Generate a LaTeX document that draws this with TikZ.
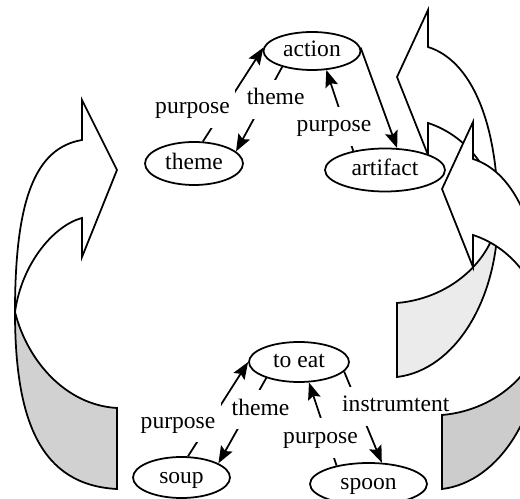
\documentclass[tikz,border=0pt]{standalone}
\usepackage{fontspec}
\setmainfont{Liberation Serif}
\usetikzlibrary{arrows.meta,shapes.geometric}
\tikzset{
  concept/.style={ellipse, draw, line width=1pt, fill=white, inner sep=0pt, text height=9.4pt, text depth=2.7pt},
  lbl/.style={fill=white, inner xsep=3pt, inner ysep=4.8pt, text height=9.4pt, text depth=3.3pt, anchor=base},
  rel/.style={line width=1pt, -{Stealth[length=3.4mm, width=2.6mm, inset=0.6mm]}},
  outl/.style={line width=1pt, line join=miter},
}
\def\curlarrow#1{%
  \filldraw[outl, fill=#1] (498,215) .. controls (498,300) and (455,370) .. (397,377)
    -- (397,303) .. controls (455,298) and (495,255) .. (498,215) -- cycle;
  \filldraw[outl, fill=white] (498,215) .. controls (498,120) and (470,60) .. (428,47)
    -- (428,10) -- (397,77) -- (428,155) -- (428,123)
    .. controls (465,135) and (495,170) .. (498,215) -- cycle;
}

\begin{document}
\begin{tikzpicture}[x=0.02cm, y=-0.02cm, font=\fontsize{13.4}{16}\selectfont]
		%%%%% START %%%%%
		\clip (0,0) rectangle (520,499);
		
		% left arrow
		\filldraw[outl, fill=black!18] (15,312) .. controls (15,420) and (40,485) .. (117,489)
			-- (117,408) .. controls (65,405) and (27,360) .. (15,312) -- cycle;
		\filldraw[outl, fill=white] (15,312) .. controls (15,200) and (35,148) .. (82,140)
			-- (82,100) -- (117,170) -- (82,257) -- (82,218)
			.. controls (55,225) and (22,262) .. (15,312) -- cycle;
		
		% right arrow, back
		\curlarrow{black!8}
		
		\node[concept, minimum width=1.94cm, minimum height=0.76cm] (action) at (312,51) {action};
		\node[concept, minimum width=1.96cm, minimum height=0.86cm] (theme) at (194,163.5) {theme};
		\node[concept, minimum width=2.4cm, minimum height=0.86cm] (artifact) at (385,170) {artifact};
		
		\node[concept, minimum width=2cm, minimum height=0.8cm] (eat) at (299,362) {to eat};
		\node[concept, minimum width=1.94cm, minimum height=0.82cm] (soup) at (181.5,477.5) {soup};
		\node[concept, minimum width=2.34cm, minimum height=0.84cm] (spoon) at (368.5,484) {spoon};
		
		\draw[rel] (action.208) -- (theme.16);
		\node[lbl] (theme1) at (275.7,105) {theme};
		\draw[rel] (theme.68) -- (action.176);
		\node[lbl] (purpose1) at (192.5,113.3) {purpose};
		\draw[rel] (action.4) -- (artifact.61);
		\draw[rel] (artifact.149) -- (action.307);
		\node[lbl] (purpose2) at (334,131.5) {purpose};
		
		\draw[rel] (eat.206) -- (soup.21);
		\node[lbl] (theme2) at (260.5,415) {theme};
		\draw[rel] (soup.73) -- (eat.180);
		\node[lbl] (purpose3) at (178,428) {purpose};
		\draw[rel] (spoon.150) -- (eat.296);
		\node[lbl] (purpose4) at (320.5,443.3) {purpose};
		\draw[rel] (eat.348) -- (spoon.58);
		\node[lbl] (instr) at (395.8,411.7) {instrumtent};
		
		% right arrow, front
		\begin{scope}[shift={(45,112)}]
			\curlarrow{black!20}
		\end{scope}
		
		%%%%% END %%%%%
\end{tikzpicture}
\end{document}
